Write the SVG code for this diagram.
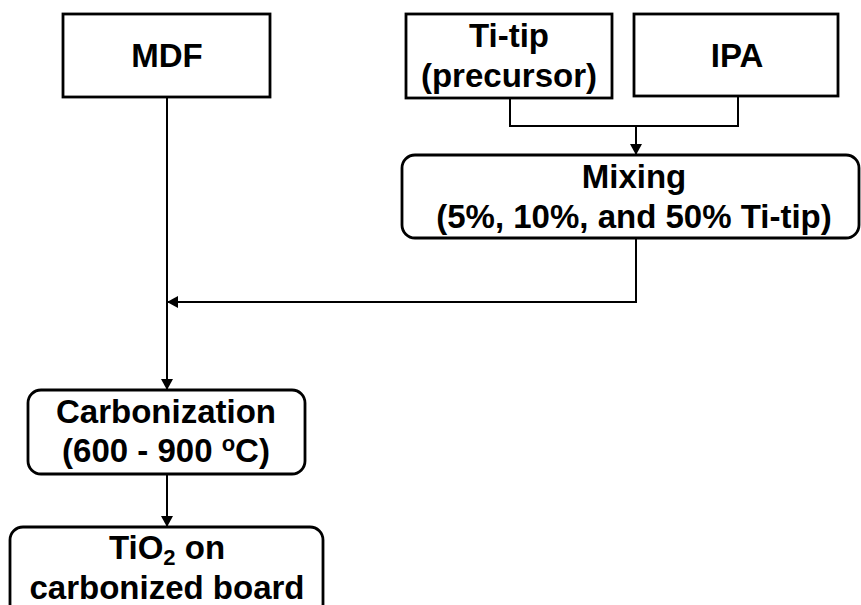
<svg xmlns="http://www.w3.org/2000/svg" width="861" height="605" viewBox="0 0 861 605">
<defs>
<marker id="ah" markerWidth="11" markerHeight="12" refX="10" refY="6" orient="auto" markerUnits="userSpaceOnUse">
<path d="M0,0 L11,6 L0,12 Z" fill="#000"/>
</marker>
<style>
.box{fill:#fff;stroke:#000;stroke-width:2.8}
.t{font-family:"Liberation Sans",Arial,sans-serif;font-weight:bold;font-size:33px;fill:#000;text-anchor:middle}
.c{fill:none;stroke:#000;stroke-width:2}
</style>
</defs>
<rect width="861" height="605" fill="#fff"/>
<g id="connectors">
<path class="c" d="M167,97 V389" marker-end="url(#ah)"/>
<path class="c" d="M510,98 V126 H738 V96"/>
<path class="c" d="M636,126 V154" marker-end="url(#ah)"/>
<path class="c" d="M636,238 V302 H168" marker-end="url(#ah)"/>
<path class="c" d="M167,474 V526" marker-end="url(#ah)"/>
</g>
<g id="mdf">
<rect class="box" x="63" y="14" width="207" height="83"/>
<text class="t" x="167" y="67">MDF</text>
</g>
<g id="titip">
<rect class="box" x="406" y="14" width="206" height="84"/>
<text class="t" x="509" y="47">Ti-tip</text>
<text class="t" x="509" y="87">(precursor)</text>
</g>
<g id="ipa">
<rect class="box" x="634" y="14" width="204" height="82"/>
<text class="t" x="737" y="67">IPA</text>
</g>
<g id="mixing">
<rect class="box" x="402" y="155" width="457" height="83" rx="13"/>
<text class="t" x="634" y="188">Mixing</text>
<text class="t" x="634" y="228">(5%, 10%, and 50% Ti-tip)</text>
</g>
<g id="carbonization">
<rect class="box" x="28" y="390" width="277" height="84" rx="13"/>
<text class="t" x="166" y="423">Carbonization</text>
<text class="t" x="166" y="462">(600 - 900 <tspan font-size="22" dy="-11">o</tspan><tspan dy="11">C)</tspan></text>
</g>
<g id="tio2">
<rect class="box" x="10" y="527" width="313" height="90" rx="13"/>
<text class="t" x="167" y="559">TiO<tspan font-size="22" dy="6">2</tspan><tspan dy="-6"> on</tspan></text>
<text class="t" x="167" y="599">carbonized board</text>
</g>
</svg>
